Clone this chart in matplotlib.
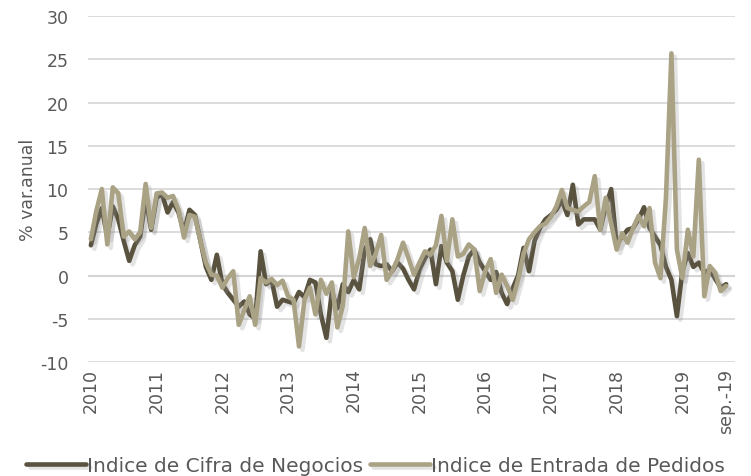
import matplotlib.pyplot as plt
import matplotlib.patheffects as pe
import numpy as np

plt.rcParams["font.family"] = "DejaVu Sans"
plt.rcParams["axes.unicode_minus"] = False

DARK = "#58523f"
LIGHT = "#aaa284"
TEXT = "#595959"

# monthly % var. anual, Jan 2010 .. Sep 2019
CIFRA = [
    3.5, 6.0, 7.8, 4.5, 8.0, 6.5, 4.0, 1.7, 3.5, 4.5, 9.0, 5.3,        # 2010
    9.0, 9.4, 7.3, 8.5, 7.3, 5.0, 7.6, 7.0, 4.0, 1.0, -0.5, 2.4,       # 2011
    -1.0, -2.0, -2.8, -3.6, -3.0, -4.5, -5.0, 2.8, -1.0, -0.5, -3.6, -2.8,  # 2012
    -3.0, -3.2, -1.9, -2.5, -0.5, -0.8, -4.5, -7.2, -1.9, -3.8, -1.0, -1.9,  # 2013
    -0.5, -1.6, 3.0, 4.2, 1.3, 1.1, 1.3, 0.5, 1.5, 0.8, -0.5, -1.6,    # 2014
    0.7, 2.0, 3.0, -1.0, 3.4, 1.5, 0.5, -2.8, 0.0, 2.2, 3.0, 1.5,      # 2015
    0.5, -0.5, 0.4, -2.0, -3.3, -1.5, 0.0, 3.2, 0.5, 4.0, 5.5, 6.5,    # 2016
    7.0, 7.6, 8.7, 7.0, 10.5, 5.9, 6.5, 6.5, 6.5, 5.3, 8.0, 10.0,      # 2017
    3.5, 4.5, 5.3, 5.5, 6.5, 7.9, 5.5, 4.5, 3.5, 1.0, -0.5, -4.7,      # 2018
    0.5, 2.6, 1.0, 1.5, 0.3, 0.7, -0.4, -1.4, -1.0,                    # 2019
]
PEDIDOS = [
    4.2, 7.5, 10.0, 3.6, 10.2, 9.5, 4.5, 5.1, 4.2, 5.0, 10.6, 5.5,     # 2010
    9.5, 9.6, 9.0, 9.2, 7.6, 4.4, 7.0, 6.8, 4.0, 1.5, 0.1, 0.0,        # 2011
    -1.4, -0.3, 0.5, -5.7, -4.0, -2.4, -5.7, -0.3, -0.8, -0.4, -1.1, -0.6,  # 2012
    -2.4, -2.8, -8.2, -2.8, -1.4, -4.5, -0.5, -2.1, -0.8, -6.0, -3.5, 5.1,  # 2013
    -0.2, 2.0, 5.5, 1.1, 2.5, 4.7, -0.5, 0.5, 1.9, 3.8, 2.0, 0.1,      # 2014
    1.5, 2.8, 2.4, 3.5, 6.9, 1.7, 6.5, 2.2, 2.5, 3.6, 3.0, -1.8,       # 2015
    0.5, 1.9, -2.0, 0.1, -1.2, -2.8, -0.5, 2.5, 4.2, 5.0, 5.7, 6.0,    # 2016
    6.8, 8.0, 9.9, 7.8, 7.6, 7.4, 8.0, 8.5, 11.5, 5.3, 9.0, 6.0,       # 2017
    3.0, 4.9, 3.8, 5.5, 6.9, 5.7, 7.8, 1.5, -0.3, 9.0, 25.7, 3.0,      # 2018
    -0.3, 5.3, 2.2, 13.4, -2.4, 1.1, 0.3, -1.8, -1.2,                  # 2019
]
TICK_POS = [0, 12, 24, 36, 48, 60, 72, 84, 96, 108, 116]
TICK_LABELS = ["2010", "2011", "2012", "2013", "2014", "2015", "2016",
               "2017", "2018", "2019", "sep.-19"]

fig = plt.figure(figsize=(7.51, 4.77), dpi=100)
ax = fig.add_axes([0.117, 0.239, 0.862, 0.725])

x = np.arange(len(CIFRA))
shadow = [pe.SimpleLineShadow(offset=(2.5, -2.5), shadow_color="#909090",
                              alpha=0.25), pe.Normal()]
ax.plot(x, CIFRA, color=DARK, lw=3.3, solid_joinstyle="round",
        solid_capstyle="round", path_effects=shadow, zorder=3,
        label="Indice de Cifra de Negocios")
ax.plot(x, PEDIDOS, color=LIGHT, lw=3.3, solid_joinstyle="round",
        solid_capstyle="round", path_effects=shadow, zorder=4,
        label="Indice de Entrada de Pedidos")

ax.set_ylim(-10, 30)
ax.set_yticks(range(-10, 31, 5))
ax.set_xlim(-0.55, 117.65)
ax.set_xticks(TICK_POS)
ax.set_xticklabels(TICK_LABELS, rotation=90, fontsize=12.5, color=TEXT)
ax.tick_params(axis="y", labelsize=12.5, labelcolor=TEXT, length=0, pad=14)
ax.tick_params(axis="x", length=0, pad=4)

ax.grid(axis="y", color="#d9d9d9", lw=1.3, zorder=0)
ax.axhline(0, color="#a6a6a6", lw=1.5, zorder=1)
for s in ax.spines.values():
    s.set_visible(False)

ax.set_ylabel("% var.anual", fontsize=12.5, color=TEXT, labelpad=2)

fig.legend(loc="lower center", bbox_to_anchor=(0.5, -0.035), ncol=2,
           frameon=False, fontsize=14.5, handlelength=3.0, handletextpad=0.05,
           columnspacing=0.3, labelcolor=TEXT)

fig.savefig("out.png", dpi=100)
